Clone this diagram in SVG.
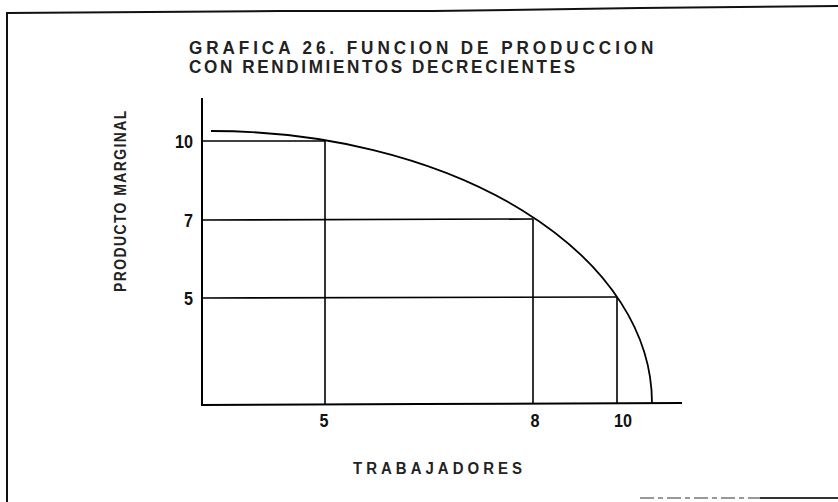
<svg xmlns="http://www.w3.org/2000/svg" width="838" height="502" viewBox="0 0 838 502">
<style>
text{font-family:"Liberation Sans",Arial,sans-serif;fill:#111}
.title{font-size:19px;font-weight:bold;fill:#222}
.num{font-size:18px;font-weight:bold}
.lab{font-size:17px;font-weight:bold;fill:#222}
.frame{fill:none;stroke:#111;stroke-width:2}
.axis{fill:none;stroke:#000;stroke-width:2}
.grid{fill:none;stroke:#000;stroke-width:1.6}
.curve{fill:none;stroke:#000;stroke-width:1.8}
</style>
<rect width="838" height="502" fill="#fff"/>
<g id="frame">
<polyline class="frame" points="7,13 280,11 433,11 640,8 838,6"/>
<line class="frame" x1="7" y1="12" x2="7" y2="502"/>
<line x1="640" y1="498" x2="760" y2="498" stroke="#777" stroke-width="1.5" stroke-dasharray="14 4 5 4"/>
<line x1="760" y1="498" x2="838" y2="498" stroke="#333" stroke-width="1.8"/>
</g>
<g id="title">
<text class="title" transform="translate(189,54) scale(0.9,1)" textLength="516" lengthAdjust="spacing">GRAFICA 26. FUNCION DE PRODUCCION</text>
<text class="title" transform="translate(189,73) scale(0.9,1)" textLength="429" lengthAdjust="spacing">CON RENDIMIENTOS DECRECIENTES</text>
</g>
<g id="axes">
<line class="axis" x1="202" y1="98" x2="202" y2="405"/>
<polyline class="axis" points="201,405 420,404 682,403"/>
</g>
<g id="connectors">
<line class="grid" x1="202" y1="141" x2="325" y2="141"/>
<line class="grid" x1="202" y1="220" x2="533" y2="219"/>
<line class="grid" x1="202" y1="298" x2="616" y2="297"/>
<line class="grid" x1="325" y1="141" x2="325" y2="405"/>
<line class="grid" x1="533" y1="219" x2="533" y2="404"/>
<line class="grid" x1="617" y1="297" x2="617" y2="403"/>
</g>
<g id="curve">
<path class="curve" d="M 211 131 A 441 272 0 0 1 652 403"/>
</g>
<g id="y-labels">
<text class="num" transform="translate(193,148) scale(0.9,1)" text-anchor="end">10</text>
<text class="num" transform="translate(193,227) scale(0.9,1)" text-anchor="end">7</text>
<text class="num" transform="translate(193,305) scale(0.9,1)" text-anchor="end">5</text>
<text class="lab" transform="translate(126,292) rotate(-90) scale(0.82,1)" textLength="221" lengthAdjust="spacing">PRODUCTO MARGINAL</text>
</g>
<g id="x-labels">
<text class="num" transform="translate(324,427) scale(0.9,1)" text-anchor="middle">5</text>
<text class="num" transform="translate(535,427) scale(0.9,1)" text-anchor="middle">8</text>
<text class="num" transform="translate(623,427) scale(0.9,1)" text-anchor="middle">10</text>
<text class="lab" transform="translate(353,474) scale(0.88,1)" textLength="192" lengthAdjust="spacing">TRABAJADORES</text>
</g>
</svg>
